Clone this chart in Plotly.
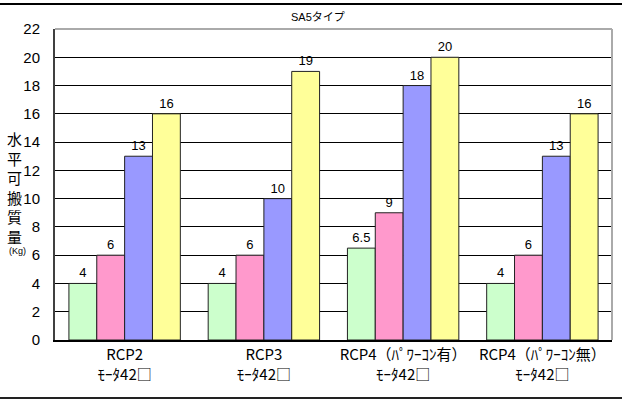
import plotly.graph_objects as go

categories = ["RCP2<br>ﾓｰﾀ42□", "RCP3<br>ﾓｰﾀ42□", "RCP4（ﾊﾟﾜｰｺﾝ有）<br>ﾓｰﾀ42□", "RCP4（ﾊﾟﾜｰｺﾝ無）<br>ﾓｰﾀ42□"]
series_names = ["系列1", "系列2", "系列3", "系列4"]
series_values = [
    [4, 4, 6.5, 4],
    [6, 6, 9, 6],
    [13, 10, 18, 13],
    [16, 19, 20, 16],
]
colors = ["#CCFFCC", "#FF99CC", "#9999FF", "#FFFF99"]
y_ticks = list(range(0, 23, 2))

FONT = "Liberation Sans, Arial, Noto Sans CJK JP, sans-serif"
CJK = "Noto Sans CJK JP, sans-serif"

fig = go.Figure()
for name, vals, col in zip(series_names, series_values, colors):
    fig.add_trace(go.Bar(
        x=categories, y=vals, name=name,
        marker=dict(color=col, line=dict(color="#222222", width=1)),
        text=[str(v) for v in vals], textposition="outside",
        textfont=dict(size=13, color="black", family=FONT),
        cliponaxis=False,
    ))

W, H = 622, 401
L, R, T, B = 55, 10, 29, 61
pw, ph = W - L - R, H - T - B

def px(x):
    return (x - L) / pw

def py(y):
    return (H - B - y) / ph

fig.update_layout(
    width=W, height=H,
    margin=dict(l=L, r=R, t=T, b=B, autoexpand=False),
    paper_bgcolor="white", plot_bgcolor="white",
    barmode="group", bargap=0.2, bargroupgap=0,
    showlegend=False,
    font=dict(family=FONT, color="black"),
    xaxis=dict(showgrid=False, showline=True, linecolor="black", linewidth=2,
               ticks="", tickfont=dict(size=15, family=CJK), ticklabelstandoff=0,
               automargin=False),
    yaxis=dict(range=[0, 22], tickvals=y_ticks, showgrid=True, gridcolor="black", gridwidth=1,
               showline=True, linecolor="#404040", linewidth=2, ticks="inside", ticklen=5,
               tickcolor="black", tickfont=dict(size=15, family=FONT), ticklabelstandoff=10,
               zeroline=False, automargin=False),
)

# plot-area border (top/right gray)
fig.add_shape(type="line", xref="paper", yref="paper", x0=0, x1=1, y0=1, y1=1,
              line=dict(color="#aaaaaa", width=2))
fig.add_shape(type="line", xref="paper", yref="paper", x0=1, x1=1, y0=0, y1=1,
              line=dict(color="#aaaaaa", width=2))

# outer top/bottom frame lines
fig.add_shape(type="line", xref="paper", yref="paper", x0=px(0), x1=px(W),
              y0=py(4), y1=py(4), line=dict(color="black", width=2), layer="above")
fig.add_shape(type="line", xref="paper", yref="paper", x0=px(0), x1=px(W),
              y0=py(398), y1=py(398), line=dict(color="#222222", width=2), layer="above")

# title
fig.add_annotation(text="SA5タイプ", xref="paper", yref="paper",
                   x=px(318), y=py(17), xanchor="center", yanchor="middle",
                   showarrow=False, font=dict(size=11, family=FONT))

# y-axis title (vertical)
fig.add_annotation(text="<br>".join("水平可搬質量"), xref="paper", yref="paper",
                   x=px(14), y=py(187), xanchor="center", yanchor="middle",
                   showarrow=False, font=dict(size=15, family=CJK))
fig.add_annotation(text="(Kg)", xref="paper", yref="paper",
                   x=px(17), y=py(251), xanchor="center", yanchor="middle",
                   showarrow=False, font=dict(size=9, family=FONT))

fig.write_html("out.html", config={"displayModeBar": False},
               post_script="document.body.style.margin='0';")
